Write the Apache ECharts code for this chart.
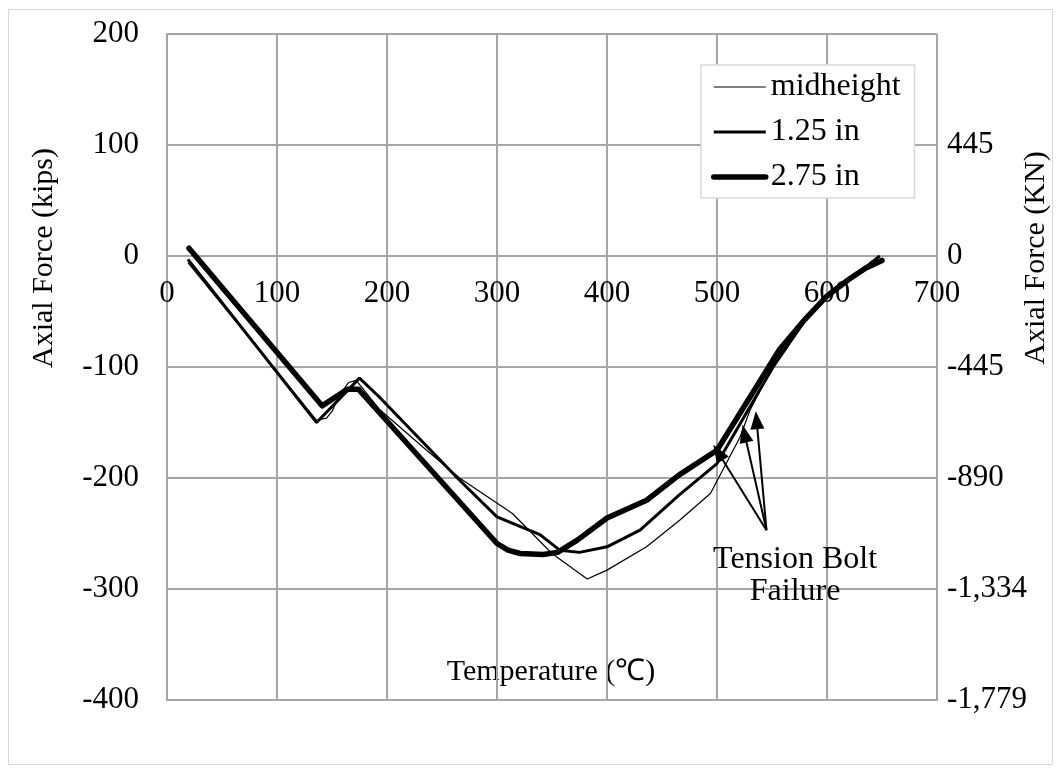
<!DOCTYPE html>
<html>
<head>
<meta charset="utf-8">
<script src="https://cdn.jsdelivr.net/npm/echarts@6/dist/echarts.min.js"></script>
<style>
html,body{margin:0;padding:0;background:#fff;}
#chart{width:1061px;height:773px;}
</style>
</head>
<body>
<div id="chart"></div>
<script>
// ---- data (temperature in °C, axial force in kips) ----
const seriesNames = ['midheight', '1.25 in', '2.75 in'];
const seriesWidths = [1.2, 3, 5.5];

const midTemp  = [19, 136, 145, 150, 157, 165, 172, 193, 236, 266, 314, 350, 382, 400, 436, 466, 494, 521, 530, 545, 560, 580, 600, 620, 635, 648];
const midForce = [-6, -148, -146, -140, -125, -114, -112, -138, -175, -200, -232, -268, -291, -283, -262, -238, -214, -163, -139, -110, -84, -58, -36, -20, -10, 0];

const in125Temp  = [19, 136, 175, 193, 266, 300, 339, 357, 375, 400, 430, 466, 500, 551, 580, 600, 620, 635, 648];
const in125Force = [-3, -150, -110, -127, -202, -235, -251, -265, -267, -262, -247, -215, -187, -100, -58, -36, -20, -10, 0];

const in275Temp  = [20, 141, 164, 174, 193, 300, 310, 321, 342, 355, 373, 400, 436, 466, 500, 557, 580, 600, 620, 635, 650];
const in275Force = [7, -135, -120, -120, -141, -259, -265, -268, -269, -267, -256, -236, -220, -197, -175, -84, -57, -36, -21, -11, -4];

// annotation: arrows from the label to the failure points
const arrowTail = [545, -247];
const arrowTips = [[501, -177], [525, -160], [536, -148]];
const noteText = 'Tension Bolt\nFailure';
const notePos = [571, -288];

// axes
const xMin = 0, xMax = 700, xStep = 100;
const yMin = -400, yMax = 200, yStep = 100;
const KIP_TO_KN = 4.448;

const FONT = '"Liberation Serif", "Times New Roman", serif';
const GRID = '#a6a6a6';

function pairs(xs, ys) { return xs.map((x, i) => [x, ys[i]]); }

const chart = echarts.init(document.getElementById('chart'), null, {renderer: 'canvas'});

// plot box: x 167..937, y 34..700 ; y = 0 sits at 34 + 666 * 200/600 = 256
const gridBox = {left: 167, right: 124, top: 34, bottom: 73, containLabel: false};
const zeroLineBox = {left: 167, right: 124, top: 34, bottom: 773 - 256, containLabel: false};

chart.setOption({
  animation: false,
  backgroundColor: '#fff',
  textStyle: {fontFamily: FONT, color: '#000'},
  grid: [Object.assign({}, gridBox), Object.assign({}, gridBox), Object.assign({}, zeroLineBox)],
  xAxis: [{
    type: 'value', gridIndex: 0, min: xMin, max: xMax, interval: xStep,
    axisLine: {show: true, onZero: false, lineStyle: {color: GRID, width: 2}},
    axisTick: {show: false},
    axisLabel: {show: false},
    splitLine: {show: true, lineStyle: {color: GRID, width: 2}}
  }, {
    type: 'value', gridIndex: 1, min: xMin, max: xMax, interval: xStep, show: false
  }, {
    // axis whose line sits on y = 0: carries the temperature tick labels
    type: 'value', gridIndex: 2, min: xMin, max: xMax, interval: xStep, position: 'bottom',
    axisLine: {show: false, onZero: false},
    axisTick: {show: false},
    splitLine: {show: false},
    axisLabel: {fontSize: 31, fontFamily: FONT, color: '#000', margin: 22}
  }],
  yAxis: [{
    type: 'value', gridIndex: 0, min: yMin, max: yMax, interval: yStep,
    axisLine: {show: true, onZero: false, lineStyle: {color: GRID, width: 2}},
    axisTick: {show: false},
    axisLabel: {fontSize: 31, fontFamily: FONT, color: '#000', margin: 28},
    splitLine: {show: true, lineStyle: {color: GRID, width: 2}}
  }, {
    type: 'value', gridIndex: 1, position: 'right',
    min: yMin * KIP_TO_KN, max: yMax * KIP_TO_KN, interval: yStep * KIP_TO_KN,
    axisLine: {show: false, onZero: false},
    axisTick: {show: false},
    splitLine: {show: false},
    axisLabel: {
      fontSize: 31, fontFamily: FONT, color: '#000', margin: 10, showMaxLabel: false,
      formatter: v => Math.round(v).toLocaleString('en-US')
    }
  }, {
    type: 'value', gridIndex: 2, min: 0, max: yMax, show: false
  }],
  legend: {
    orient: 'vertical', left: 701, top: 65,
    data: seriesNames.map((n, i) => ({
      name: n,
      lineStyle: {width: seriesWidths[i], color: '#000'},
      itemStyle: {color: 'rgba(0,0,0,0)', borderWidth: 0, opacity: 0}
    })),
    itemWidth: 52, itemHeight: 14, itemGap: 13,
    backgroundColor: '#fff', borderColor: '#d9d9d9', borderWidth: 1.5,
    padding: [6, 14, 5, 10],
    textStyle: {fontSize: 32, fontFamily: FONT, color: '#000', padding: [0, 0, 0, 0]}
  },
  graphic: [
    {type: 'rect', shape: {x: 8.5, y: 9.5, width: 1044, height: 755}, style: {fill: 'none', stroke: '#d9d9d9', lineWidth: 1}, z: -10},
    {type: 'text', x: 44, y: 258, rotation: Math.PI / 2,
     style: {text: 'Axial Force (kips)', font: '30px ' + FONT, fill: '#000', align: 'center', verticalAlign: 'middle'}},
    {type: 'text', x: 1036, y: 258, rotation: Math.PI / 2,
     style: {text: 'Axial Force (KN)', font: '30px ' + FONT, fill: '#000', align: 'center', verticalAlign: 'middle'}},
    {type: 'text', x: 551, y: 672,
     style: {text: 'Temperature (℃)', font: '30px ' + FONT, fill: '#000', align: 'center', verticalAlign: 'middle'}}
  ],
  series: [
    {
      name: seriesNames[0], type: 'line', xAxisIndex: 0, yAxisIndex: 0, data: pairs(midTemp, midForce),
      symbol: 'none', smooth: false, color: '#000',
      lineStyle: {color: '#000', width: seriesWidths[0]}, z: 4,
      markLine: {
        silent: true, symbol: ['none', 'triangle'], symbolSize: [14, 18],
        lineStyle: {color: '#000', width: 2, type: 'solid'},
        itemStyle: {color: '#000'},
        label: {show: false},
        data: arrowTips.map(t => [{coord: arrowTail}, {coord: t}])
      },
      markPoint: {
        silent: true, symbol: 'circle', symbolSize: 1,
        itemStyle: {color: 'rgba(0,0,0,0)'},
        label: {show: true, position: 'inside', formatter: noteText, fontSize: 32, lineHeight: 32, fontFamily: FONT, color: '#000'},
        data: [{coord: notePos}]
      }
    },
    {
      name: seriesNames[1], type: 'line', xAxisIndex: 0, yAxisIndex: 0, data: pairs(in125Temp, in125Force),
      symbol: 'none', smooth: false, color: '#000',
      lineStyle: {color: '#000', width: seriesWidths[1]}, z: 3
    },
    {
      name: seriesNames[2], type: 'line', xAxisIndex: 0, yAxisIndex: 0, data: pairs(in275Temp, in275Force),
      symbol: 'none', smooth: false, color: '#000',
      lineStyle: {color: '#000', width: seriesWidths[2], join: 'round', cap: 'round'}, z: 2
    }
  ]
});
</script>
</body>
</html>
